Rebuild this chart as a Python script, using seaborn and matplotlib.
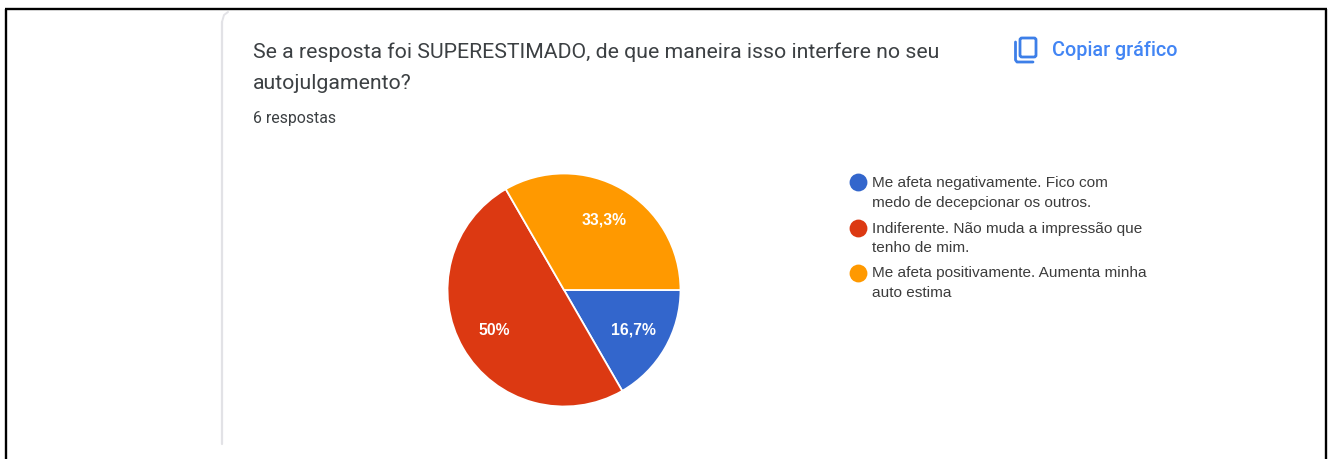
import matplotlib
matplotlib.use("Agg")
import matplotlib.pyplot as plt
from matplotlib.patches import FancyBboxPatch
from matplotlib.lines import Line2D
import seaborn as sns

categories = ["Me afeta negativamente. Fico com\nmedo de decepcionar os outros.",
              "Indiferente. Não muda a impressão que\ntenho de mim.",
              "Me afeta positivamente. Aumenta minha\nauto estima"]
responses = [1, 3, 2]
colors = ["#3366CC", "#DC3912", "#FF9900"]
title_lines = ["Se a resposta foi SUPERESTIMADO, de que maneira isso interfere no seu", "autojulgamento?"]
subtitle = "6 respostas"
copy_label = "Copiar gráfico"

sns.set_theme(style="white")
W, H = 1329, 459
fig = plt.figure(figsize=(W/100, H/100), dpi=100, facecolor="white")

bg = fig.add_axes([0, 0, 1, 1])
bg.set_xlim(0, W); bg.set_ylim(H, 0); bg.axis("off")

# frame
for xs, ys in [([6, 6], [9, 459]), ([5, 1327], [9, 9]), ([1326, 1326], [9, 459])]:
    bg.add_line(Line2D(xs, ys, color="black", lw=1.7, solid_capstyle="butt"))

# card edge
bg.add_line(Line2D([222, 222], [22, 444], color="#E2E2E6", lw=1.6))
bg.add_line(Line2D([222, 224, 228], [22, 15, 12], color="#E2E2E6", lw=1.4))

roboto = "Roboto"
bg.text(253, 52, title_lines[0], family=roboto, fontsize=15.3, color="#3C4043", va="center", ha="left")
bg.text(253, 83.5, title_lines[1], family=roboto, fontsize=15.3, color="#3C4043", va="center", ha="left")
bg.text(253, 118, subtitle, family=roboto, fontsize=11.4, color="#3C4043", va="center", ha="left")
bg.text(1052, 50.5, copy_label, family=roboto, fontsize=14.2, color="#4285F4", va="center", ha="left", weight="medium")

# copy icon
bg.add_patch(FancyBboxPatch((1020, 38), 16, 19, boxstyle="round,pad=0,rounding_size=2",
                            fill=False, ec="#3D7FE8", lw=2))
bg.add_line(Line2D([1015.5, 1015.5, 1017, 1033], [42, 60, 62, 62], color="#3D7FE8", lw=2))

# pie
cx, cy, r = 564, 290, 116.5
ax = fig.add_axes([(cx-r)/W, 1-(cy+r)/H, 2*r/W, 2*r/H])

def fmt(p):
    s = f"{p:.1f}".replace(".", ",")
    return s[:-2] + "%" if s.endswith(",0") else s + "%"

wedges, _, autotexts = ax.pie(responses, colors=colors, startangle=0, counterclock=False, radius=1,
                              autopct=fmt, pctdistance=0.69,
                              wedgeprops=dict(edgecolor="white", linewidth=1.3),
                              textprops=dict(color="white", fontsize=11.3, fontweight="bold", family="Liberation Sans"))
ax.set_xlim(-1, 1); ax.set_ylim(-1, 1)

# legend
for y, lab, c in zip([182, 228, 272.5], categories, colors):
    bg.scatter([857.5], [y], s=165, color=c, linewidths=0, zorder=3)
    first, second = lab.split("\n")
    bg.text(872.5, y+0.5, first, family="Liberation Sans", fontsize=11.1, color="#3C3C3C", va="center", ha="left")
    bg.text(872.5, y+20.5, second, family="Liberation Sans", fontsize=11.1, color="#3C3C3C", va="center", ha="left")

fig.savefig("out.png", dpi=100, facecolor="white")
